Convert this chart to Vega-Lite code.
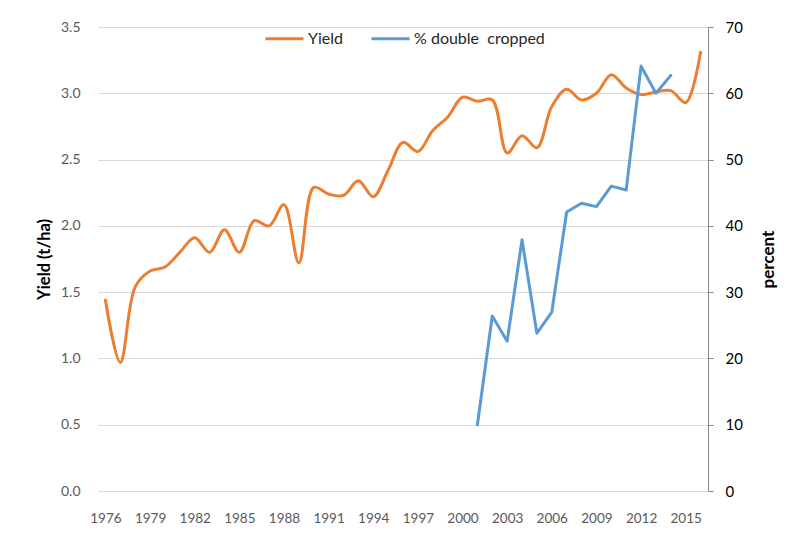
{
  "$schema": "https://vega.github.io/schema/vega-lite/v6.json",
  "width": 610,
  "height": 464,
  "autosize": {"type": "none"},
  "padding": {"left": 98, "top": 27, "right": 95, "bottom": 42},
  "background": "white",
  "config": {
    "view": {"stroke": null},
    "font": "Lato"
  },
  "datasets": {
    "yield": [
      {"year": 1976, "yield": 1.44}, {"year": 1977, "yield": 0.97}, {"year": 1978, "yield": 1.54},
      {"year": 1979, "yield": 1.66}, {"year": 1980, "yield": 1.69}, {"year": 1981, "yield": 1.80},
      {"year": 1982, "yield": 1.91}, {"year": 1983, "yield": 1.80}, {"year": 1984, "yield": 1.97},
      {"year": 1985, "yield": 1.80}, {"year": 1986, "yield": 2.04}, {"year": 1987, "yield": 2.00},
      {"year": 1988, "yield": 2.16}, {"year": 1989, "yield": 1.72}, {"year": 1990, "yield": 2.29},
      {"year": 1991, "yield": 2.24}, {"year": 1992, "yield": 2.23}, {"year": 1993, "yield": 2.34},
      {"year": 1994, "yield": 2.22}, {"year": 1995, "yield": 2.42}, {"year": 1996, "yield": 2.63},
      {"year": 1997, "yield": 2.56}, {"year": 1998, "yield": 2.72}, {"year": 1999, "yield": 2.82},
      {"year": 2000, "yield": 2.97}, {"year": 2001, "yield": 2.94}, {"year": 2002, "yield": 2.95},
      {"year": 2003, "yield": 2.55}, {"year": 2004, "yield": 2.68}, {"year": 2005, "yield": 2.59},
      {"year": 2006, "yield": 2.90}, {"year": 2007, "yield": 3.03}, {"year": 2008, "yield": 2.95},
      {"year": 2009, "yield": 3.00}, {"year": 2010, "yield": 3.14}, {"year": 2011, "yield": 3.04},
      {"year": 2012, "yield": 2.99}, {"year": 2013, "yield": 3.01}, {"year": 2014, "yield": 3.02},
      {"year": 2015, "yield": 2.93}, {"year": 2016, "yield": 3.31}
    ],
    "pct": [
      {"year": 2001, "pct": 10.0}, {"year": 2002, "pct": 26.4}, {"year": 2003, "pct": 22.6},
      {"year": 2004, "pct": 37.9}, {"year": 2005, "pct": 23.8}, {"year": 2006, "pct": 27.0},
      {"year": 2007, "pct": 42.1}, {"year": 2008, "pct": 43.4}, {"year": 2009, "pct": 42.9},
      {"year": 2010, "pct": 46.0}, {"year": 2011, "pct": 45.4}, {"year": 2012, "pct": 64.1},
      {"year": 2013, "pct": 60.0}, {"year": 2014, "pct": 62.7}
    ]
  },
  "encoding": {
    "x": {
      "field": "year",
      "type": "quantitative",
      "scale": {"domain": [1975.5, 2016.5], "nice": false, "zero": false},
      "axis": {
        "title": null,
        "values": [1976, 1979, 1982, 1985, 1988, 1991, 1994, 1997, 2000, 2003, 2006, 2009, 2012, 2015],
        "format": "d",
        "domain": false,
        "ticks": false,
        "grid": false,
        "labelPadding": 20,
        "labelColor": "#595959",
        "labelFontSize": 13.5,
        "labelFont": "Lato"
      }
    }
  },
  "layer": [
    {
      "data": {"name": "yield"},
      "mark": {"type": "line", "interpolate": "catmull-rom", "strokeWidth": 3, "strokeCap": "round"},
      "encoding": {
        "y": {
          "field": "yield",
          "type": "quantitative",
          "scale": {"domain": [0, 3.5], "nice": false},
          "axis": {
            "orient": "left",
            "title": "Yield (t/ha)",
            "titleFontWeight": "bold",
            "titleFontSize": 16.5,
            "titleColor": "black",
            "titlePadding": 8,
            "values": [0, 0.5, 1, 1.5, 2, 2.5, 3, 3.5],
            "format": ".1f",
            "domain": false,
            "ticks": false,
            "labelPadding": 18,
            "labelColor": "#595959",
            "labelFontSize": 14,
            "grid": true,
            "gridColor": "#D9D9D9",
            "gridWidth": 1
          }
        },
        "color": {
          "datum": "Yield",
          "type": "nominal",
          "scale": {"domain": ["Yield", "% double\u00a0 cropped"], "range": ["#ED7D31", "#5B9BD5"]},
          "legend": {
            "title": null,
            "orient": "none",
            "legendX": 166,
            "legendY": -9,
            "direction": "horizontal",
            "symbolType": "stroke",
            "symbolSize": 1444,
            "symbolStrokeWidth": 3,
            "labelFontSize": 16,
            "labelColor": "#262626",
            "labelOffset": 3,
            "columnPadding": 21
          }
        }
      }
    },
    {
      "data": {"name": "pct"},
      "mark": {"type": "line", "strokeWidth": 3, "strokeCap": "round", "strokeJoin": "round"},
      "encoding": {
        "y": {
          "field": "pct",
          "type": "quantitative",
          "scale": {"domain": [0, 70], "nice": false},
          "axis": {
            "orient": "right",
            "title": "percent",
            "titleAngle": 270,
            "titleFontWeight": "bold",
            "titleFontSize": 17,
            "titleColor": "black",
            "titlePadding": 35,
            "values": [0, 10, 20, 30, 40, 50, 60, 70],
            "domain": true,
            "domainColor": "#868686",
            "ticks": true,
            "tickColor": "#868686",
            "tickSize": 5,
            "labelPadding": 12,
            "labelColor": "black",
            "labelFontSize": 15,
            "grid": false
          }
        },
        "color": {"datum": "% double\u00a0 cropped", "type": "nominal"}
      }
    }
  ],
  "resolve": {"scale": {"y": "independent"}}
}
